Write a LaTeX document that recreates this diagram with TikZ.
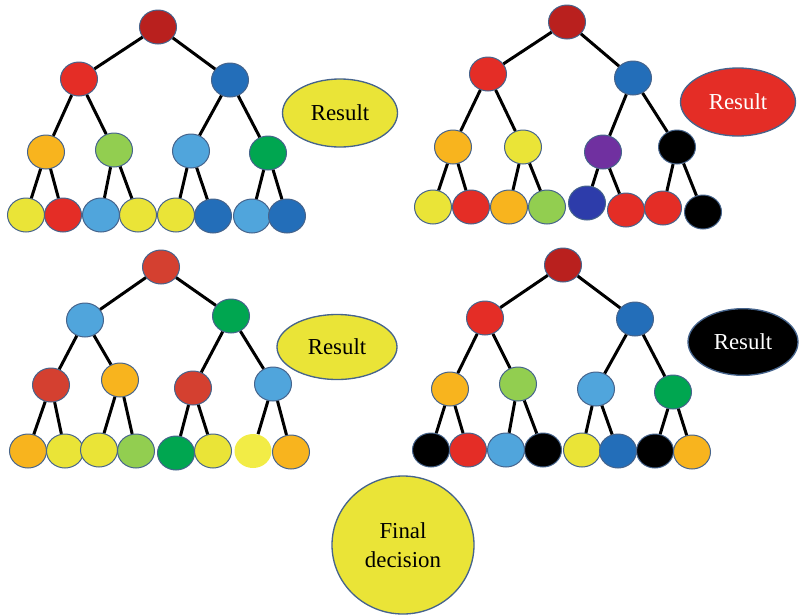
\documentclass[tikz,border=0pt]{standalone}
\usepackage{fontspec}
\setmainfont{Liberation Serif}
\usetikzlibrary{shapes.geometric}
\definecolor{rootred}{RGB}{185,32,30}
\definecolor{cred}{RGB}{228,45,38}
\definecolor{cred3}{RGB}{212,64,48}
\definecolor{cblue}{RGB}{35,110,185}
\definecolor{clblue}{RGB}{80,165,220}
\definecolor{corange}{RGB}{248,180,30}
\definecolor{clgreen}{RGB}{146,206,80}
\definecolor{cgreen}{RGB}{0,166,80}
\definecolor{cyellow}{RGB}{234,228,55}
\definecolor{cpale}{RGB}{242,236,70}
\definecolor{cpurple}{RGB}{112,48,160}
\definecolor{cnavy}{RGB}{45,60,170}
\definecolor{bord}{RGB}{70,100,140}
\tikzset{
  tn/.style={ellipse, draw=bord, line width=0.3mm, inner sep=0pt, minimum width=11.1mm, minimum height=10.2mm},
  edge/.style={line width=0.9mm, black},
  result/.style={ellipse, draw=bord, line width=0.4mm, inner sep=0pt, minimum width=34.5mm, minimum height=20.4mm, font=\fontsize{19.5}{22}\selectfont}
}
\begin{document}
\begin{tikzpicture}[x=0.3mm,y=-0.3mm]
\useasboundingbox (0,0) rectangle (799,615);
% ---------- Tree 1 ----------
\node[tn,fill=rootred] (t1r) at (158,27) {};
\node[tn,fill=cred] (t1a) at (79,79) {};
\node[tn,fill=cblue] (t1b) at (230,80) {};
\node[tn,fill=corange] (t1aa) at (46,152) {};
\node[tn,fill=clgreen] (t1ab) at (114,150) {};
\node[tn,fill=clblue] (t1ba) at (191,151) {};
\node[tn,fill=cgreen] (t1bb) at (268,153) {};
\node[tn,fill=cyellow] (t1l1) at (26,215) {};
\node[tn,fill=cred] (t1l2) at (63,215) {};
\node[tn,fill=clblue] (t1l3) at (101,215) {};
\node[tn,fill=cyellow] (t1l4) at (138,215) {};
\node[tn,fill=cyellow] (t1l5) at (176,215) {};
\node[tn,fill=cblue] (t1l6) at (213,216) {};
\node[tn,fill=clblue] (t1l7) at (252,216) {};
\node[tn,fill=cblue] (t1l8) at (287,216) {};
\draw[edge] (t1r)--(t1a) (t1r)--(t1b) (t1a)--(t1aa) (t1a)--(t1ab) (t1b)--(t1ba) (t1b)--(t1bb)
  (t1aa)--(t1l1) (t1aa)--(t1l2) (t1ab)--(t1l3) (t1ab)--(t1l4)
  (t1ba)--(t1l5) (t1ba)--(t1l6) (t1bb)--(t1l7) (t1bb)--(t1l8);
\node[result,fill=cyellow] (res1) at (340,113) {Result};
% ---------- Tree 2 ----------
\node[tn,fill=rootred] (t2r) at (567,22) {};
\node[tn,fill=cred] (t2a) at (488,74) {};
\node[tn,fill=cblue] (t2b) at (633,78) {};
\node[tn,fill=corange] (t2aa) at (453,147) {};
\node[tn,fill=cyellow] (t2ab) at (523,147) {};
\node[tn,fill=cpurple] (t2ba) at (603,152) {};
\node[tn,fill=black] (t2bb) at (677,147) {};
\node[tn,fill=cyellow] (t2l1) at (433,207) {};
\node[tn,fill=cred] (t2l2) at (471,207) {};
\node[tn,fill=corange] (t2l3) at (509,207) {};
\node[tn,fill=clgreen] (t2l4) at (547,207) {};
\node[tn,fill=cnavy] (t2l5) at (587,203) {};
\node[tn,fill=cred] (t2l6) at (626,210) {};
\node[tn,fill=cred] (t2l7) at (663,208) {};
\node[tn,fill=black] (t2l8) at (703,212) {};
\draw[edge] (t2r)--(t2a) (t2r)--(t2b) (t2a)--(t2aa) (t2a)--(t2ab) (t2b)--(t2ba) (t2b)--(t2bb)
  (t2aa)--(t2l1) (t2aa)--(t2l2) (t2ab)--(t2l3) (t2ab)--(t2l4)
  (t2ba)--(t2l5) (t2ba)--(t2l6) (t2bb)--(t2l7) (t2bb)--(t2l8);
\node[result,fill=cred,text=white] (res2) at (738,102) {Result};
% ---------- Tree 3 ----------
\node[tn,fill=cred3] (t3r) at (161,267) {};
\node[tn,fill=clblue] (t3a) at (85,320) {};
\node[tn,fill=cgreen] (t3b) at (231,316) {};
\node[tn,fill=cred3] (t3aa) at (51,385) {};
\node[tn,fill=corange] (t3ab) at (120,380) {};
\node[tn,fill=cred3] (t3ba) at (193,388) {};
\node[tn,fill=clblue] (t3bb) at (273,384) {};
\node[tn,fill=corange] (t3l1) at (28,451) {};
\node[tn,fill=cyellow] (t3l2) at (65,451) {};
\node[tn,fill=cyellow] (t3l3) at (99,450) {};
\node[tn,fill=clgreen] (t3l4) at (136,451) {};
\node[tn,fill=cgreen] (t3l5) at (176,453) {};
\node[tn,fill=cyellow] (t3l6) at (213,451) {};
\node[tn,fill=cpale,draw=none] (t3l7) at (253,451) {};
\node[tn,fill=corange] (t3l8) at (291,452) {};
\draw[edge] (t3r)--(t3a) (t3r)--(t3b) (t3a)--(t3aa) (t3a)--(t3ab) (t3b)--(t3ba) (t3b)--(t3bb)
  (t3aa)--(t3l1) (t3aa)--(t3l2) (t3ab)--(t3l3) (t3ab)--(t3l4)
  (t3ba)--(t3l5) (t3ba)--(t3l6) (t3bb)--(t3l7) (t3bb)--(t3l8);
\node[result,fill=cyellow,minimum width=36mm,minimum height=19.5mm] (res3) at (337,347) {Result};
% ---------- Tree 4 ----------
\node[tn,fill=rootred] (t4r) at (563,265) {};
\node[tn,fill=cred] (t4a) at (485,318) {};
\node[tn,fill=cblue] (t4b) at (635,319) {};
\node[tn,fill=corange] (t4aa) at (450,389) {};
\node[tn,fill=clgreen] (t4ab) at (518,384) {};
\node[tn,fill=clblue] (t4ba) at (596,389) {};
\node[tn,fill=cgreen] (t4bb) at (673,392) {};
\node[tn,fill=black] (t4l1) at (431,450) {};
\node[tn,fill=cred] (t4l2) at (468,450) {};
\node[tn,fill=clblue] (t4l3) at (506,450) {};
\node[tn,fill=black] (t4l4) at (543,450) {};
\node[tn,fill=cyellow] (t4l5) at (582,450) {};
\node[tn,fill=cblue] (t4l6) at (618,451) {};
\node[tn,fill=black] (t4l7) at (655,451) {};
\node[tn,fill=corange] (t4l8) at (692,452) {};
\draw[edge] (t4r)--(t4a) (t4r)--(t4b) (t4a)--(t4aa) (t4a)--(t4ab) (t4b)--(t4ba) (t4b)--(t4bb)
  (t4aa)--(t4l1) (t4aa)--(t4l2) (t4ab)--(t4l3) (t4ab)--(t4l4)
  (t4ba)--(t4l5) (t4ba)--(t4l6) (t4bb)--(t4l7) (t4bb)--(t4l8);
\node[result,fill=black,text=white,minimum width=33mm,minimum height=20mm] (res4) at (743,342) {Result};
% ---------- Final ----------
\node[ellipse,draw=bord,line width=0.4mm,fill=cyellow,minimum width=42.6mm,minimum height=41.4mm,inner sep=0pt,align=center,font=\fontsize{19.5}{25}\selectfont] (final) at (403,545) {Final\\decision};
\end{tikzpicture}
\end{document}
